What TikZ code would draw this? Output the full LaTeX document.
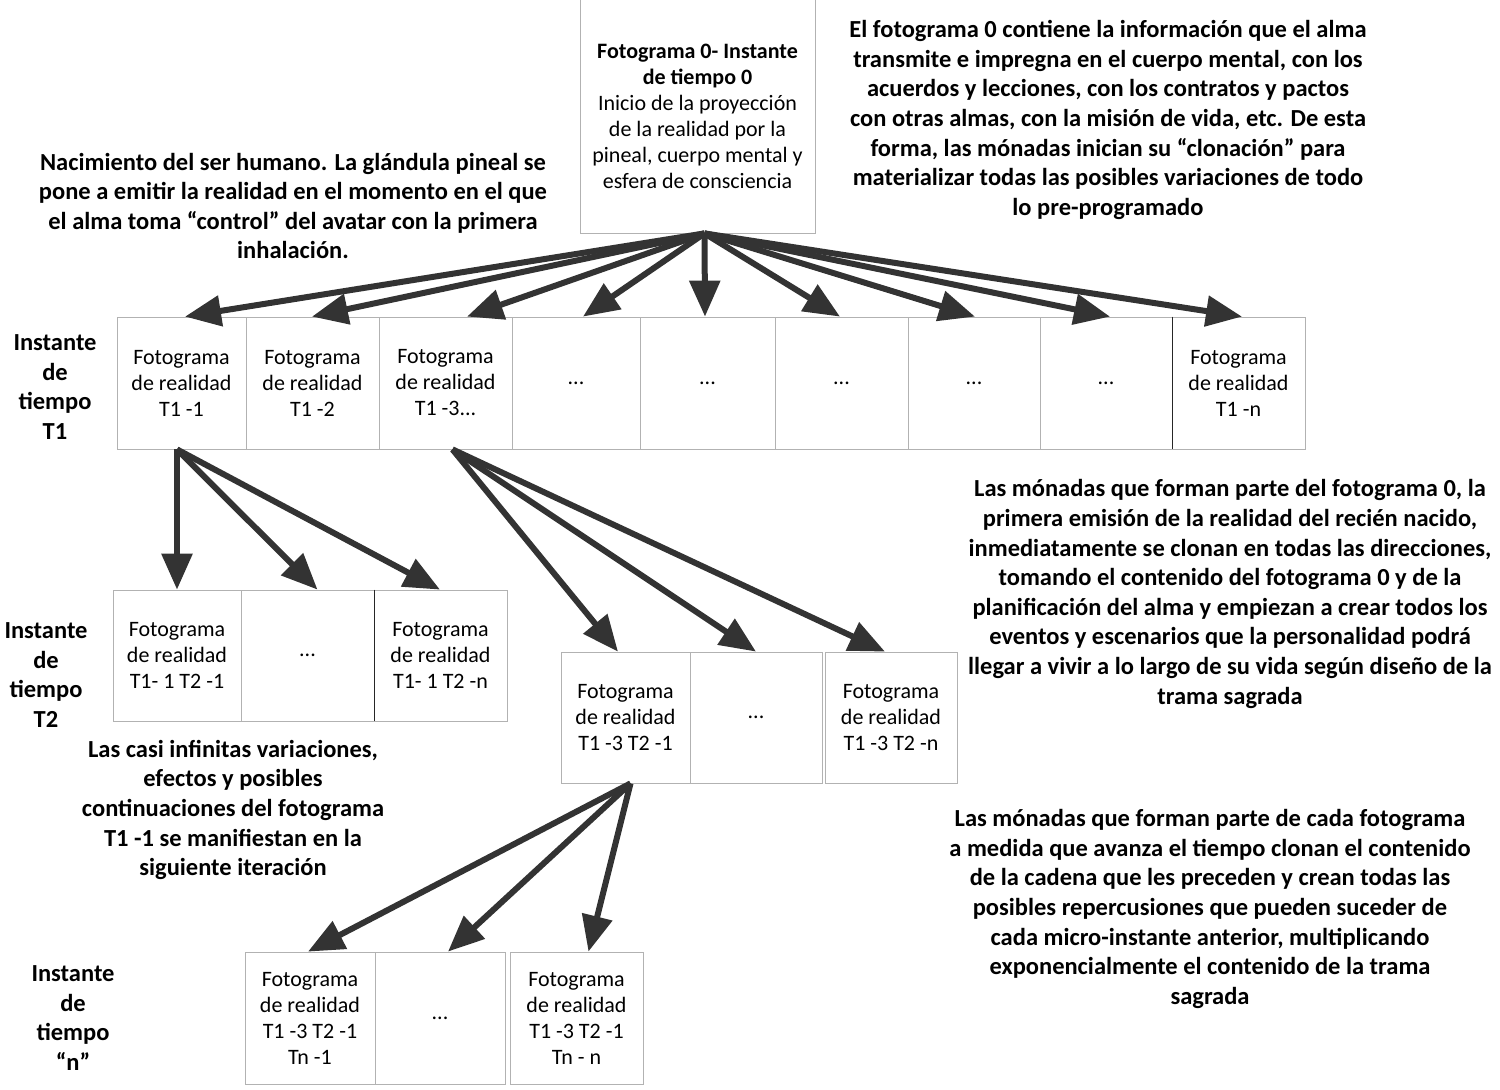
\documentclass[tikz,border=0pt]{standalone}
\usepackage{fontspec}
\setmainfont{Carlito}
\usetikzlibrary{arrows.meta}
\begin{document}
\begin{tikzpicture}[x=0.5pt,y=-0.5pt,
  fbox/.style={draw=black!30, fill=white, align=center, inner sep=0pt,
    minimum height=66pt, font=\fontsize{11}{13}\selectfont},
  note/.style={align=center, inner sep=0pt, font=\fontsize{12.25}{14.8}\selectfont\bfseries},
  sep/.style={draw=black!85, line width=0.5pt},
  arr/.style={draw=black!80, line width=3pt,
    -{Triangle[length=18pt,width=15pt,fill=black!80]}, shorten >=0pt}]
\useasboundingbox (0,0) rectangle (1500,1089);
% top box
\node[fbox, minimum width=117.5pt, minimum height=117pt] (top) at (697.5,116)
  {\textbf{Fotograma 0- Instante}\\\textbf{de tiempo 0}\\Inicio de la proyección\\de la realidad por la\\pineal, cuerpo mental y\\esfera de consciencia};
% row T1
\node[fbox, minimum width=64.5pt] (a1) at (181.5,383) {Fotograma\\de realidad\\T1 -1};
\node[fbox, minimum width=66.5pt] (a2) at (312.5,383) {Fotograma\\de realidad\\T1 -2};
\node[fbox, minimum width=66.5pt] (a3) at (445.5,383) {Fotograma\\de realidad\\T1 -3...};
\node[fbox, minimum width=64pt] (a4) at (576,383) {...};
\node[fbox, minimum width=67.5pt] (a5) at (707.5,383) {...};
\node[fbox, minimum width=66.5pt] (a6) at (841.5,383) {...};
\node[fbox, minimum width=66pt] (a7) at (974,383) {...};
\node[fbox, minimum width=66pt] (a8) at (1106,383) {...};
\node[fbox, minimum width=66.5pt] (a9) at (1238.5,383) {Fotograma\\de realidad\\T1 -n};
\draw[sep] (a8.north east) -- (a8.south east);
% row T2 left
\node[fbox, minimum width=64pt, minimum height=65.5pt] (b1) at (177,655.5) {Fotograma\\de realidad\\T1- 1 T2 -1};
\node[fbox, minimum width=66.5pt, minimum height=65.5pt] (b2) at (307.5,655.5) {...};
\node[fbox, minimum width=66.5pt, minimum height=65.5pt] (b3) at (440.5,655.5) {Fotograma\\de realidad\\T1- 1 T2 -n};
\draw[sep] (b2.north east) -- (b2.south east);
% row T2 right
\node[fbox, minimum width=64.5pt, minimum height=65.5pt] (c1) at (625.5,717.5) {Fotograma\\de realidad\\T1 -3 T2 -1};
\node[fbox, minimum width=66pt, minimum height=65.5pt] (c2) at (756,717.5) {...};
\node[fbox, minimum width=66pt, minimum height=65.5pt] (c3) at (891,717.5) {Fotograma\\de realidad\\T1 -3 T2 -n};
% row n
\node[fbox, minimum width=65pt] (d1) at (310,1018) {Fotograma\\de realidad\\T1 -3 T2 -1\\Tn -1};
\node[fbox, minimum width=65pt] (d2) at (440,1018) {...};
\node[fbox, minimum width=66.5pt] (d3) at (576.5,1018) {Fotograma\\de realidad\\T1 -3 T2 -1\\Tn - n};
% labels
\node[note] (l1) at (55,387) {Instante\\de\\tiempo\\T1};
\node[note] (l2) at (46,675) {Instante\\de\\tiempo\\T2};
\node[note] (l3) at (73,1018) {Instante\\de\\tiempo\\“n”};
% notes
\node[note] (n1) at (293,206) {Nacimiento del ser humano. La glándula pineal se\\pone a emitir la realidad en el momento en el que\\el alma toma “control” del avatar con la primera\\inhalación.};
\node[note] (n2) at (1108,120) {El fotograma 0 contiene la información que el alma\\transmite e impregna en el cuerpo mental, con los\\acuerdos y lecciones, con los contratos y pactos\\con otras almas, con la misión de vida, etc. De esta\\forma, las mónadas inician su “clonación” para\\materializar todas las posibles variaciones de todo\\lo pre-programado};
\node[note] (n3) at (1230,594) {Las mónadas que forman parte del fotograma 0, la\\primera emisión de la realidad del recién nacido,\\inmediatamente se clonan en todas las direcciones,\\tomando el contenido del fotograma 0 y de la\\planificación del alma y empiezan a crear todos los\\eventos y escenarios que la personalidad podrá\\llegar a vivir a lo largo de su vida según diseño de la\\trama sagrada};
\node[note] (n4) at (233,810) {Las casi infinitas variaciones,\\efectos y posibles\\continuaciones del fotograma\\T1 -1 se manifiestan en la\\siguiente iteración};
\node[note] (n5) at (1210,909) {Las mónadas que forman parte de cada fotograma\\a medida que avanza el tiempo clonan el contenido\\de la cadena que les preceden y crean todas las\\posibles repercusiones que pueden suceder de\\cada micro-instante anterior, multiplicando\\exponencialmente el contenido de la trama\\sagrada};
% arrows level 1
\coordinate (s0) at ([xshift=3.5pt]top.south);
\draw[arr] (s0) -- ([xshift=1.75pt]a1.north);
\draw[arr] (s0) -- ([xshift=-0.25pt]a2.north);
\draw[arr] (s0) -- ([xshift=10.75pt]a3.north);
\draw[arr] (s0) -- ([xshift=3.5pt]a4.north);
\draw[arr] (s0) -- ([xshift=-1.25pt]a5.north);
\draw[arr] (s0) -- ([xshift=-0.75pt]a6.north);
\draw[arr] (s0) -- ([xshift=0.5pt]a7.north);
\draw[arr] (s0) -- ([xshift=2pt]a8.north);
\draw[arr] (s0) -- ([xshift=1.75pt]a9.north);
% arrows from T1-1
\coordinate (s1) at ([xshift=-2.25pt]a1.south);
\draw[arr] (s1) -- (b1.north);
\draw[arr] (s1) -- ([xshift=5pt]b2.north);
\draw[arr] (s1) -- ([xshift=-0.25pt]b3.north);
% arrows from T1-3
\coordinate (s2) at ([xshift=3.5pt]a3.south);
\draw[arr] (s2) -- ([xshift=-3.75pt]c1.north);
\draw[arr] (s2) -- (c2.north);
\draw[arr] (s2) -- ([xshift=-3pt]c3.north);
% arrows from T1-3 T2-1
\coordinate (s3) at ([xshift=2.5pt]c1.south);
\draw[arr] (s3) -- ([xshift=-1pt]d1.north);
\draw[arr] (s3) -- ([xshift=4pt]d2.north);
\draw[arr] (s3) -- ([xshift=6pt]d3.north);
\end{tikzpicture}
\end{document}
